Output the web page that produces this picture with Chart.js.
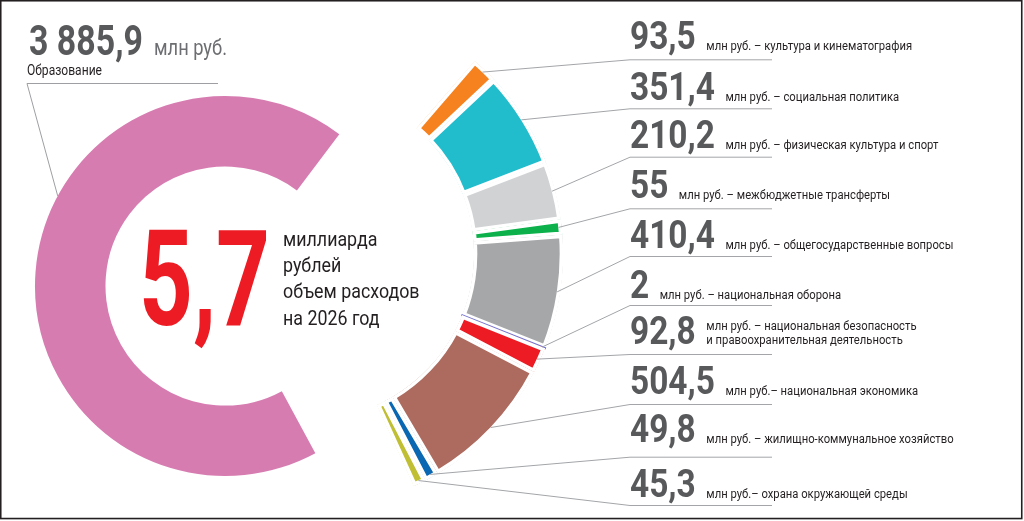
<!DOCTYPE html>
<html><head><meta charset="utf-8">
<script src="https://cdn.jsdelivr.net/npm/chart.js@4.4.1/dist/chart.umd.min.js"></script>
<style>
html,body{margin:0;padding:0;background:#fff;}
#wrap{position:relative;width:1024px;height:521px;overflow:hidden;background:#fff;}
canvas{position:absolute;left:0;top:0;}
#ov{position:absolute;left:0;top:0;}
#ov text{font-family:Roboto,"Open Sans","DejaVu Sans",sans-serif;}
</style></head><body>
<div id="wrap">
<canvas id="c1" width="1024" height="521"></canvas>
<canvas id="c2" width="1024" height="521"></canvas>
<svg id="ov" width="1024" height="521" xmlns="http://www.w3.org/2000/svg"></svg>
</div>
<script>
// ---------- DATA ----------
const categories = ['Образование','культура и кинематография','социальная политика','физическая культура и спорт','межбюджетные трансферты','общегосударственные вопросы','национальная оборона','национальная безопасность и правоохранительная деятельность','национальная экономика','жилищно-коммунальное хозяйство','охрана окружающей среды'];
const values = [3885.9, 93.5, 351.4, 210.2, 55, 410.4, 2, 92.8, 504.5, 49.8, 45.3];
const colors = ['#d77cb1','#f6821f','#22bdcd','#d1d2d4','#0db14b','#a6a7a9','#6b6fd0','#ed1c24','#ad6b5f','#0a67b2','#c0be33'];
const rowLabels = [
  ['млн руб. – культура и кинематография'],
  ['млн руб. – социальная политика'],
  ['млн руб. – физическая культура и спорт'],
  ['млн руб. – межбюджетные трансферты'],
  ['млн руб. – общегосударственные вопросы'],
  ['млн руб. – национальная оборона'],
  ['млн руб. – национальная безопасность','и правоохранительная деятельность'],
  ['млн руб.– национальная экономика'],
  ['млн руб. – жилищно-коммунальное хозяйство'],
  ['млн руб.– охрана окружающей среды']
];
const mainLabel = 'Образование';
const unitLabel = 'млн руб.';
const centerLines = ['миллиарда','рублей','объем расходов','на 2026 год'];

// ---------- LAYOUT ----------
const RULE_Y = [59.3,108.3,156.7,208.3,256,305,354,404,456.7,505];
const NUM_BASE = [49.3,100,148.3,198.3,248.3,298.3,344,394,441.7,496.7];
const RULE_X0 = 630, RULE_X1 = 772;
const GAP = 3.25;
const R2_OUT = 252, R2_IN = 169;

function fmt(v){
  const s = String(v).split('.');
  const ip = s[0].replace(/\B(?=(\d{3})+(?!\d))/g,' ');
  return s.length>1 ? ip+','+s[1] : ip;
}

const pinkLeader = {
  id:'pinkLeader',
  afterDatasetsDraw(chart){
    const arc = chart.getDatasetMeta(0).data[0];
    const a = 208.3*Math.PI/180;
    const ctx = chart.ctx;
    ctx.save();
    ctx.strokeStyle = '#9d9fa2'; ctx.lineWidth = 1;
    ctx.beginPath();
    ctx.moveTo(arc.x+Math.cos(a)*arc.outerRadius, arc.y+Math.sin(a)*arc.outerRadius);
    ctx.lineTo(27, 83.5);
    ctx.lineTo(218, 83.5);
    ctx.stroke();
    ctx.restore();
  }
};

const rightLeaders = {
  id:'rightLeaders',
  afterDatasetsDraw(chart){
    const meta = chart.getDatasetMeta(0);
    const ctx = chart.ctx;
    ctx.save();
    ctx.strokeStyle = '#a3a5a8'; ctx.lineWidth = 1;
    meta.data.forEach((arc,i)=>{
      if(i===0) return;
      const r = i-1;
      const a = (arc.startAngle+arc.endAngle)/2;
      const R = arc.outerRadius - GAP;
      ctx.beginPath();
      ctx.moveTo(arc.x+Math.cos(a)*R, arc.y+Math.sin(a)*R);
      ctx.lineTo(RULE_X0, RULE_Y[r]+0.5);
      ctx.lineTo(RULE_X1, RULE_Y[r]+0.5);
      ctx.stroke();
    });
    ctx.restore();
  }
};

const common = {
  responsive:false, animation:false, events:[],
  plugins:{legend:{display:false}, tooltip:{enabled:false}}
};

new Chart(document.getElementById('c1'), {
  type:'doughnut',
  data:{labels:categories, datasets:[{
    data:values,
    backgroundColor: values.map((v,i)=> i===0 ? colors[0] : 'rgba(0,0,0,0)'),
    borderWidth:0
  }]},
  options:Object.assign({}, common, {
    rotation:151.6, radius:190, cutout:'62.9%',
    layout:{padding:{left:0,right:574,top:51,bottom:0}}
  }),
  plugins:[pinkLeader]
});

new Chart(document.getElementById('c2'), {
  type:'doughnut',
  data:{labels:categories, datasets:[{
    data:values,
    backgroundColor: colors.map((c,i)=> i===0 ? 'rgba(0,0,0,0)' : c),
    borderColor: values.map((v,i)=> i===6 ? colors[6] : '#ffffff'),
    borderWidth: values.map((v,i)=> i===0 ? 0 : (i===6 ? 1.4 : GAP)),
    borderAlign: values.map((v,i)=> i===6 ? 'center' : 'inner'),
    borderJoinStyle:'miter'
  }]},
  options:Object.assign({}, common, {
    rotation:155.45, radius:R2_OUT+GAP, cutout:((R2_IN-GAP)/(R2_OUT+GAP)*100)+'%',
    layout:{padding:{left:0,right:408,top:0,bottom:13}}
  }),
  plugins:[rightLeaders]
});

// ---------- TEXT ----------
const NS = 'http://www.w3.org/2000/svg';
const ov = document.getElementById('ov');
function txt(str,x,y,size,weight,fill,sx){
  const t = document.createElementNS(NS,'text');
  t.textContent = str;
  t.setAttribute('font-size',size);
  t.setAttribute('font-weight',weight);
  t.setAttribute('fill',fill);
  t.setAttribute('transform','translate('+x+','+y+') scale('+(sx||1)+',1)');
  ov.appendChild(t);
  return t;
}
function natural(str,size,weight){
  const t = txt(str,0,-200,size,weight,'#000',1);
  const w = t.getComputedTextLength(); t.remove(); return w;
}
function fit(str,x,y,size,weight,fill,target){
  const sx = target/natural(str,size,weight);
  return txt(str,x,y,size,weight,fill,sx);
}

// frame
const fr = document.createElementNS(NS,'rect');
fr.setAttribute('x',0.75); fr.setAttribute('y',0.75); fr.setAttribute('width',1021); fr.setAttribute('height',517.8);
fr.setAttribute('fill','none'); fr.setAttribute('stroke','#231f20'); fr.setAttribute('stroke-width',1.6);
ov.appendChild(fr);

const NUM_SIZE = 38, LBL_SIZE = 13;
const SXN = 85/natural('351,4',NUM_SIZE,700);
const SXL = 206/natural(rowLabels[0][0],LBL_SIZE,400);

for(let r=0;r<10;r++){
  const v = values[r+1];
  const s = fmt(v);
  const t = txt(s,RULE_X0,NUM_BASE[r],NUM_SIZE,700,'#58595b',SXN);
  const w = t.getComputedTextLength()*SXN;
  const lx = RULE_X0 + w + 10.5;
  const lines = rowLabels[r];
  if(lines.length===1){
    txt(lines[0],lx,NUM_BASE[r]+1,LBL_SIZE,400,'#231f20',SXL);
  } else {
    txt(lines[0],lx,NUM_BASE[r]-14.5,LBL_SIZE,400,'#231f20',SXL);
    txt(lines[1],lx,NUM_BASE[r],LBL_SIZE,400,'#231f20',SXL);
  }
}

// left headline
fit(fmt(values[0]),29,55,42,700,'#58595b',114);
fit(unitLabel,154,55,22,400,'#6d6e71',73);
fit(mainLabel,27,75,15,400,'#231f20',75);

// center
const total = values.reduce((a,b)=>a+b,0);
fit((total/1000).toFixed(1).replace('.',','),139,325,134,700,'#ed1c24',131);
const SXC = 136.7/natural(centerLines[2],21,400);
const CB = [245.7,272.3,298.3,325];
centerLines.forEach((l,i)=>txt(l,283,CB[i],21,400,'#231f20',SXC));
</script>
</body></html>
